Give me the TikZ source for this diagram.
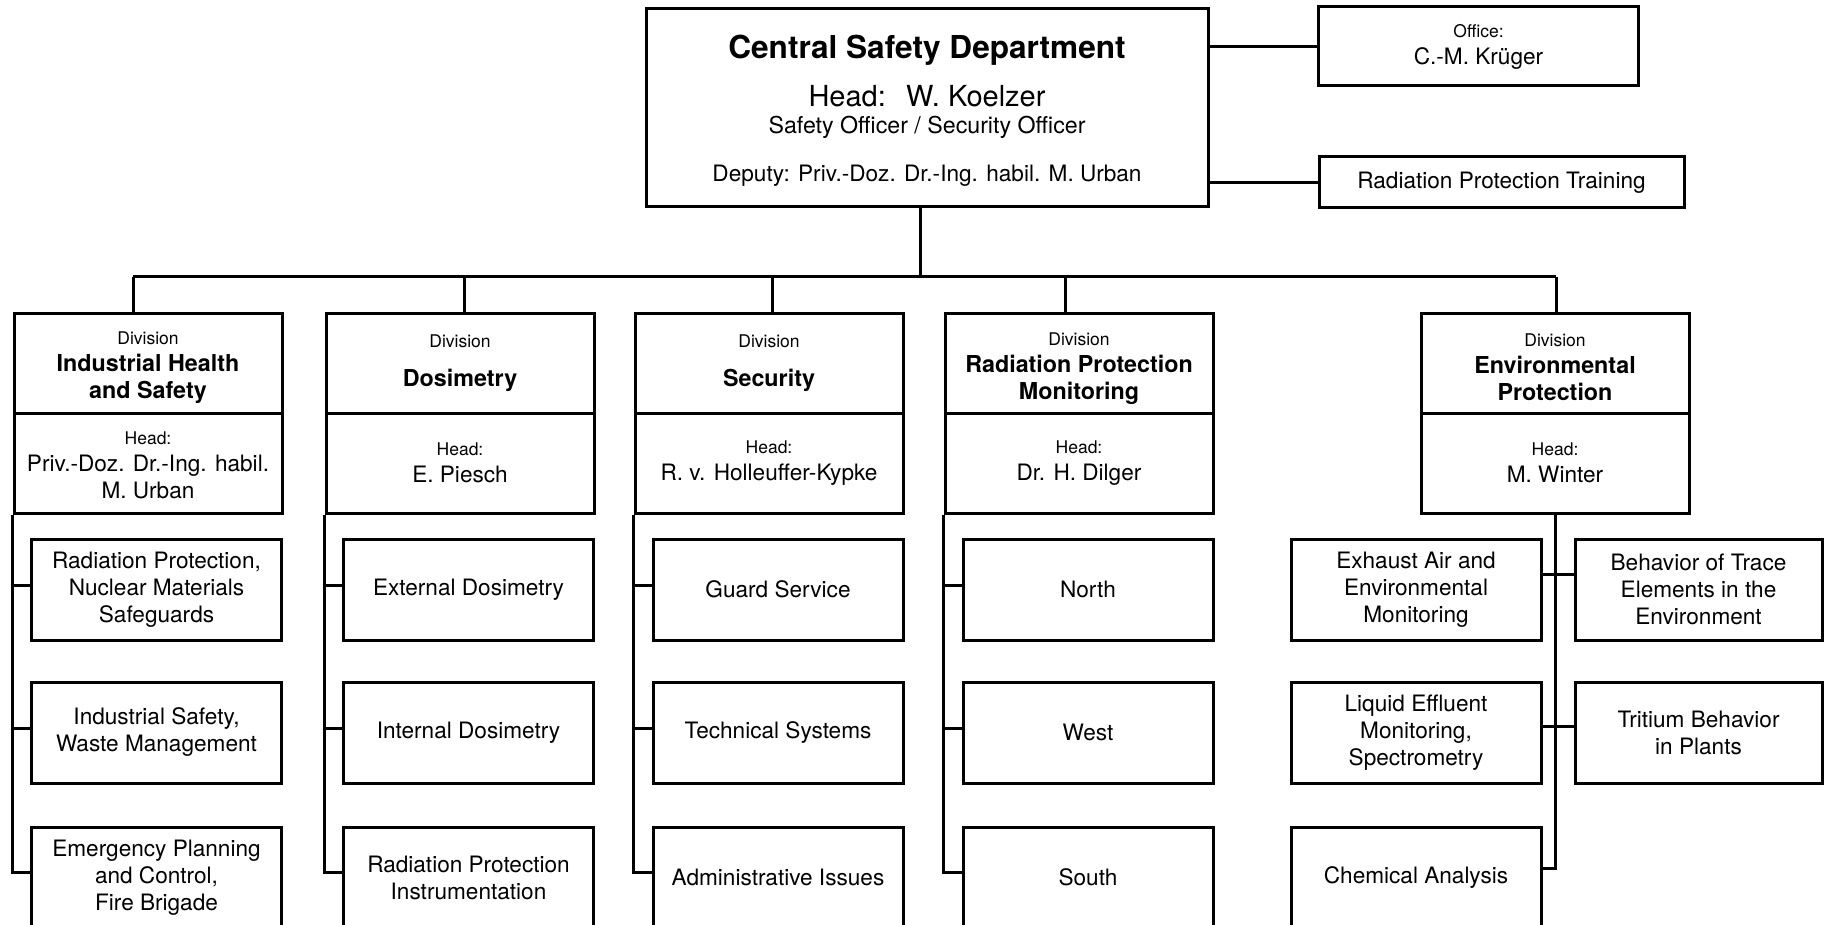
\documentclass[tikz,border=0pt]{standalone}
\usepackage{fontspec}
\setmainfont{TeX Gyre Heros}
\newcommand{\ftxt}{\fontsize{22.6}{27}\selectfont}
\newcommand{\fsm}{\fontsize{17.5}{21}\selectfont}
\newcommand{\fttl}{\fontsize{23.3}{27}\selectfont\bfseries}
\newcommand{\fhead}{\fontsize{29}{34}\selectfont}
\newcommand{\fbig}{\fontsize{31.6}{36}\selectfont\bfseries}

\begin{document}
\begin{tikzpicture}[x=1pt,y=-1pt,
  box/.style={draw, line width=3pt, inner sep=0pt, align=center, font=\ftxt},
  divbox/.style={box, minimum width=268, minimum height=100},
  unit/.style={box, minimum width=250, minimum height=101},
  lbl/.style={inner sep=0pt, align=center, font=\ftxt},
  link/.style={line width=3pt}]
\useasboundingbox[fill=white] (0,0) rectangle (1825,925);

% department head box and its texts
\node[box, minimum width=562, minimum height=198] (csd) at (927,108) {};
\node[lbl, font=\fbig] (csdt) at (927,50) {Central Safety Department};
\node[lbl, font=\fhead] (csdh) at (927,96) {Head:\hspace{0.7em}W. Koelzer};
\node[lbl, font=\fontsize{23.2}{27}\selectfont] (csds) at (927,127) {Safety Officer / Security Officer};
\node[lbl] (csdd) at (927,176) {Deputy: Priv.-Doz. Dr.-Ing. habil. M. Urban};

% staff boxes
\node[box, minimum width=320, minimum height=79] (off) at (1478.5,46.5)
  {{\fsm Office:}\\C.-M. Krüger};
\node[box, minimum width=365, minimum height=51] (trn) at (1501.5,182.5)
  {Radiation Protection Training};
\draw[link] (csd.east |- off.west) -- (off.west);
\draw[link] (csd.east |- trn.west) -- (trn.west);

% divisions: title box above, head box below
\node[divbox] (d1t) at (148,363) {};
\node[lbl] (d1tx) at (148,368) {{\fsm Division}\\{\fttl Industrial Health}\\{\fttl and Safety}};
\node[divbox] (d1h) at (148,463) {};
\node[lbl] (d1hx) at (148,465) {{\fsm Head:}\\Priv.-Doz. Dr.-Ing. habil.\\M. Urban};
\node[divbox] (d2t) at (460,363) {{\fsm Division}\\[12pt]{\fttl Dosimetry}};
\node[divbox] (d2h) at (460,463) {{\fsm Head:}\\E. Piesch};
\node[divbox] (d3t) at (769,363) {{\fsm Division}\\[12pt]{\fttl Security}};
\node[divbox] (d3h) at (769,463) {{\fsm Head:}\\R. v. Holleuffer-Kypke};
\node[divbox] (d4t) at (1079,363) {};
\node[lbl] (d4tx) at (1079,369) {{\fsm Division}\\{\fttl Radiation Protection}\\{\fttl Monitoring}};
\node[divbox] (d4h) at (1079,463) {{\fsm Head:}\\Dr. H. Dilger};
\node[divbox] (d5t) at (1555,363) {};
\node[lbl] (d5tx) at (1555,367) {{\fsm Division}\\{\fttl Environmental}\\{\fttl Protection}};
\node[divbox] (d5h) at (1555,463) {{\fsm Head:}\\M. Winter};

% bus from the department to the divisions
\coordinate (j0) at (920,277);
\coordinate (s1) at (133,277);
\coordinate (s2) at (464,277);
\coordinate (s3) at (772,277);
\coordinate (s4) at (1065,277);
\coordinate (s5) at (1556,277);
\draw[link] (csd.south -| j0) -- (j0);
\draw[link] (s1) -- (s5);
\foreach \i in {1,...,5} \draw[link] (s\i) -- (s\i |- d\i t.north);

% sections of the first four divisions
\node[unit] (u11) at (156.5,589.5) {Radiation Protection,\\Nuclear Materials\\Safeguards};
\node[unit] (u12) at (156.5,732.5) {Industrial Safety,\\Waste Management};
\node[unit] (u13) at (156.5,877.5) {Emergency Planning\\and Control,\\Fire Brigade};
\node[unit] (u21) at (468.5,589.5) {External Dosimetry};
\node[unit] (u22) at (468.5,732.5) {Internal Dosimetry};
\node[unit] (u23) at (468.5,877.5) {Radiation Protection\\Instrumentation};
\node[unit] (u31) at (778,589.5) {Guard Service};
\node[unit] (u32) at (778,732.5) {Technical Systems};
\node[unit] (u33) at (778,877.5) {Administrative Issues};
\node[unit] (u41) at (1088,589.5) {North};
\node[unit] (u42) at (1088,732.5) {West};
\node[unit] (u43) at (1088,877.5) {South};

\foreach \i in {1,...,4} {
  \draw[link] (d\i h.south west) |- ([yshift=5pt]u\i 3.west);
  \draw[link] ([yshift=4pt]u\i 1.west -| d\i h.south west) -- ([yshift=4pt]u\i 1.west);
  \draw[link] ([yshift=4pt]u\i 2.west -| d\i h.south west) -- ([yshift=4pt]u\i 2.west);
}

% sections of the environmental division
\node[unit] (e11) at (1416,589.5) {Exhaust Air and\\Environmental\\Monitoring};
\node[unit, minimum width=247] (e12) at (1698.5,589.5) {Behavior of Trace\\Elements in the\\Environment};
\node[unit] (e21) at (1416,732.5) {Liquid Effluent\\Monitoring,\\Spectrometry};
\node[unit, minimum width=247] (e22) at (1698.5,732.5) {Tritium Behavior\\in Plants};
\node[unit] (e31) at (1416,877.5) {Chemical Analysis};

\draw[link] (d5h.south) |- ([yshift=9.5pt]e31.east);
\draw[link] ([yshift=15.5pt]e11.east) -- ([yshift=15.5pt]e11.east -| e12.west);
\draw[link] ([yshift=6.5pt]e21.east) -- ([yshift=6.5pt]e21.east -| e22.west);
\end{tikzpicture}
\end{document}
